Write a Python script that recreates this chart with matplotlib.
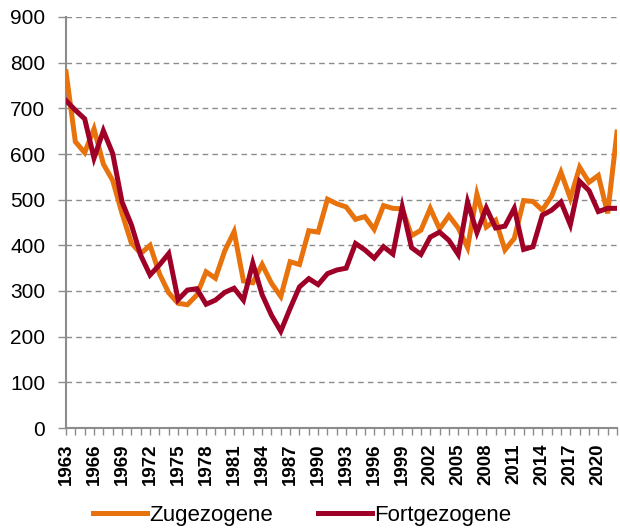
import matplotlib
matplotlib.use("Agg")
import matplotlib.pyplot as plt
from matplotlib.ticker import FixedLocator

years = list(range(1963, 2023))

zugezogene = [780, 627, 603, 655, 578, 542, 470, 405, 382, 400,
              338, 296, 273, 270, 291, 342, 328, 388, 430, 322,
              318, 358, 317, 288, 364, 358, 432, 429, 501, 491,
              484, 457, 463, 435, 487, 481, 480, 421, 433, 481,
              436, 465, 438, 395, 512, 440, 455, 390, 415, 498,
              496, 477, 508, 560, 503, 571, 538, 553, 470, 648]

fortgezogene = [717, 696, 677, 591, 651, 601, 495, 445, 378, 335,
                357, 382, 281, 302, 305, 271, 280, 297, 306, 280,
                361, 292, 247, 212, 262, 309, 327, 314, 338, 346,
                350, 404, 390, 372, 397, 381, 484, 395, 380, 418,
                429, 411, 380, 495, 428, 482, 438, 442, 481, 391,
                397, 466, 477, 495, 445, 540, 520, 474, 481, 481]

series_names = ["Zugezogene", "Fortgezogene"]
colors = ["#E8720C", "#9E0027"]
y_ticks = list(range(0, 1000, 100))
x_labels = list(range(1963, 2023, 3))

plt.rcParams['font.family'] = ['Liberation Sans', 'DejaVu Sans']

fig = plt.figure(figsize=(6.2, 5.28), dpi=100)
ax = fig.add_axes([66/620, 1-428/528, (617-66)/620, (428-17)/528])

ax.plot(years, zugezogene, color=colors[0], lw=3.6, label=series_names[0],
        solid_joinstyle='miter', zorder=3)
ax.plot(years, fortgezogene, color=colors[1], lw=3.6, label=series_names[1],
        solid_joinstyle='miter', zorder=4)

ax.set_xlim(1963, 2022)
ax.set_ylim(0, 900)

grey = "#8C8C8C"
ax.set_yticks(y_ticks)
ax.set_yticklabels([str(v) for v in y_ticks], fontsize=15)
for v in y_ticks[1:]:
    ax.axhline(v, color=grey, lw=1.0, ls=(0, (4, 3)), zorder=1)

ax.xaxis.set_major_locator(FixedLocator(x_labels))
ax.set_xticklabels([str(y) for y in x_labels], rotation=90, fontsize=13.5,
                   fontweight='bold')
ax.xaxis.set_minor_locator(FixedLocator(years))
ax.tick_params(axis='x', which='both', direction='out', length=5, width=1,
               color=grey, pad=6)
ax.tick_params(axis='y', direction='out', length=6, width=1, color=grey, pad=9)

for s in ['top', 'right']:
    ax.spines[s].set_visible(False)
for s in ['left', 'bottom']:
    ax.spines[s].set_color(grey)
    ax.spines[s].set_linewidth(1.5)

leg = fig.legend(loc='center', bbox_to_anchor=(302/620, 1-515/528), ncol=2,
                 frameon=False, fontsize=16, handlelength=2.45,
                 handletextpad=0.1, columnspacing=2.0)

fig.savefig("out.png", dpi=100)
